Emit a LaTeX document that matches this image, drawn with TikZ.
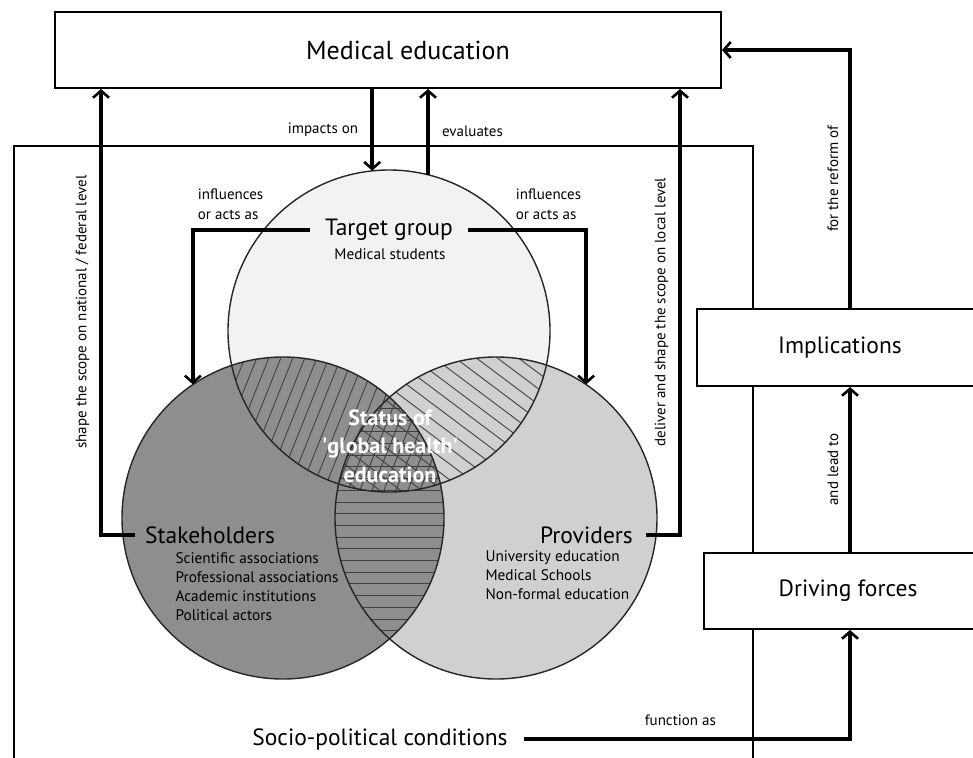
\documentclass[tikz,border=0pt]{standalone}
\usepackage{fontspec}
\setmainfont{PT Sans}
\usetikzlibrary{positioning, arrows.meta}
\definecolor{tgtgray}{HTML}{F2F2F2}
\definecolor{stkgray}{HTML}{8E8E8E}
\definecolor{prvgray}{HTML}{D0D0D0}
\tikzset{
	arrow/.style={line width=3.5pt, -{Straight Barb[length=7pt, width=16pt, line width=2.6pt]}},
	framelines/.style={line width=2pt},
	box/.style={draw, line width=2pt, fill=white, inner sep=0pt, font=\bigfont},
	venn/.style={circle, minimum size=322pt, inner sep=0pt},
	ring/.style={line width=1.4pt, black!85},
	hatch/.style={line width=0.9pt, black!75},
	bigtext/.style={font=\bigfont},
	midtext/.style={font=\midfont, align=left},
	smalltext/.style={font=\smallfont},
	sidelabel/.style={rotate=90, anchor=south, inner ysep=10pt, font=\smallfont},
	statustext/.style={font=\statusfont, text=white, align=center},
}
\newcommand{\bigfont}{\fontsize{23.5}{27}\selectfont}
\newcommand{\titlefont}{\fontsize{26}{30}\selectfont}
\newcommand{\midfont}{\fontsize{15.3}{19}\selectfont}
\newcommand{\smallfont}{\fontsize{15}{20}\selectfont}
\newcommand{\statusfont}{\fontsize{22}{28.5}\selectfont\bfseries}

\begin{document}
\begin{tikzpicture}[x=1pt, y=-1pt]
	\path[use as bounding box, clip] (0,0) rectangle (973,757);
	% outer frame
	\draw[framelines] (14,770) |- (753,146) -- (753,770);

	% circles
	\node[venn, fill=tgtgray] (tgt) at (389,331) {};
	\node[venn, fill=prvgray] (prv) at (496,518) {};
	\node[venn, fill=stkgray] (stk) at (283,518) {};

	% hatching of the overlaps
	\begin{scope}
		\clip (tgt.center) circle[radius=161pt];
		\clip (stk.center) circle[radius=161pt];
		\foreach \a in {-60,-48,...,560}
			\draw[hatch] (\a,520) -- ++(160,-400);
	\end{scope}
	\begin{scope}
		\clip (tgt.center) circle[radius=161pt];
		\clip (prv.center) circle[radius=161pt];
		\foreach \a in {0,21,...,700}
			\draw[hatch] (\a,300) -- ++(300,225);
	\end{scope}
	\begin{scope}
		\clip (stk.center) circle[radius=161pt];
		\clip (prv.center) circle[radius=161pt];
		\foreach \i in {0,...,30}
			\draw[hatch] (300,{361.6+11.7*\i}) -- (480,{361.6+11.7*\i});
	\end{scope}
	\foreach \c in {tgt, prv, stk}
		\draw[ring] (\c.center) circle[radius=161pt];

	% boxes
	\node[box, minimum width=666pt, minimum height=76pt] (med) at (388,50) {};
	\node[font=\titlefont] (medlbl) at (408,50) {Medical education};
	\node[box, minimum width=286pt, minimum height=77pt] (impl) at (840,347.5) {Implications};
	\node[box, minimum width=288pt, minimum height=76pt] (drv) at (848,591) {Driving forces};

	% circle texts
	\node[bigtext, inner xsep=15pt] (tgtlbl) at (389,230) {Target group};
	\node[midtext] (tgtsub) at (390,254) {Medical students};
	\node[bigtext, anchor=west, inner xsep=10pt] (stklbl) at (135,535) {Stakeholders};
	\node[midtext, anchor=west] (stkitems) at (172,587) {Scientific associations\\Professional associations\\Academic institutions\\Political actors};
	\node[bigtext, anchor=east, inner xsep=13pt] (prvlbl) at (646,535) {Providers};
	\node[midtext, anchor=west] (prvitems) at (482,575) {University education\\Medical Schools\\Non-formal education};
	\node[statustext] (status) at (390,446) {Status of\\\textquotesingle global health\textquotesingle\\education};
	\node[bigtext, inner xsep=16pt] (socio) at (380,739) {Socio-political conditions};

	% connectors
	\draw[arrow] (med.south -| tgt.96) -- (tgt.96) node[midway, left, xshift=-9pt, smalltext] {impacts on};
	\draw[arrow] (tgt.76) -- (tgt.76 |- med.south) node[midway, right, xshift=9pt, smalltext] {evaluates};

	\draw[arrow] (tgtlbl.west) -| (stk.124) node[pos=0.5, anchor=south west, yshift=5pt, smalltext, align=left] {influences\\or acts as};
	\draw[arrow] (tgtlbl.east) -| (prv.56) node[pos=0.5, anchor=south east, yshift=5pt, smalltext, align=left] {influences\\or acts as};

	\draw[arrow] (stklbl.west) -| ([xshift=47pt]med.south west) node[pos=0.75, sidelabel] {shape the scope on national / federal level};
	\draw[arrow] (prvlbl.east) -| ([xshift=-42pt]med.south east) node[pos=0.75, sidelabel] {deliver and shape the scope on local level};

	\draw[arrow] ([xshift=10pt]impl.north) |- (med.east) node[pos=0.25, sidelabel] {for the reform of};
	\draw[arrow] ([xshift=2pt]drv.north) -- ([xshift=2pt]drv.north |- impl.south) node[midway, sidelabel] {and lead to};
	\draw[arrow] (socio.east) -| ([xshift=2pt]drv.south) node[pos=0.24, above=8pt, smalltext] {function as};
\end{tikzpicture}
\end{document}
